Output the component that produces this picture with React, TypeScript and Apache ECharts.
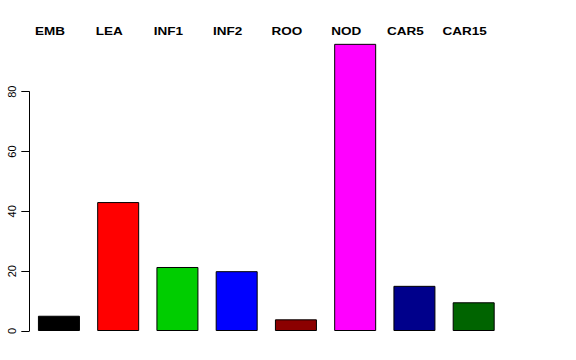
import React, { useEffect, useRef } from "react";
import * as echarts from "echarts";

const categories = ["EMB", "LEA", "INF1", "INF2", "ROO", "NOD", "CAR5", "CAR15"];
const values = [5.1, 43.1, 21.4, 20.0, 3.9, 96.0, 15.1, 9.6];
const colors = ["#000000", "#FF0000", "#00CD00", "#0000FF", "#8B0000", "#FF00FF", "#00008B", "#006400"];
const yTicks = [0, 20, 40, 60, 80];

export default function App() {
  const ref = useRef<HTMLDivElement>(null);
  useEffect(() => {
    if (!ref.current) return;
    const chart = echarts.init(ref.current, null, { renderer: "svg" });
    const font = '"Liberation Sans", Arial, Helvetica, sans-serif';
    chart.setOption({
      animation: false,
      backgroundColor: "#ffffff",
      grid: { left: 29.3, right: 72.7, top: 91.7, bottom: 29, containLabel: false },
      xAxis: {
        type: "category",
        data: categories,
        show: false,
      },
      yAxis: {
        type: "value",
        min: yTicks[0],
        max: yTicks[yTicks.length - 1],
        interval: 20,
        splitLine: { show: false },
        axisLine: { show: true, lineStyle: { color: "#000", width: 1 } },
        axisTick: { show: true, length: 8, lineStyle: { color: "#000", width: 1 } },
        axisLabel: {
          rotate: 90,
          margin: 12,
          color: "#000",
          fontSize: 11,
          fontFamily: font,
        },
      },
      series: [
        {
          type: "bar",
          clip: false,
          barWidth: 42,
          data: values.map((v, i) => ({
            value: v,
            itemStyle: { color: colors[i], borderColor: "#000", borderWidth: 1 },
          })),
        },
      ],
    });
    const graphics = categories.map((c) => {
      const x = chart.convertToPixel({ xAxisIndex: 0 }, c) as number;
      return {
        type: "text",
        x: x - 9,
        y: 31,
        scaleY: 0.82,
        style: {
          text: c,
          font: `bold 13.5px ${font}`,
          align: "center",
          verticalAlign: "middle",
          fill: "#000",
        },
      };
    });
    chart.setOption({ graphic: graphics });
    return () => chart.dispose();
  }, []);
  return (
    <div
      ref={ref}
      style={{ position: "absolute", left: 0, top: 0, width: 576, height: 360 }}
    />
  );
}
